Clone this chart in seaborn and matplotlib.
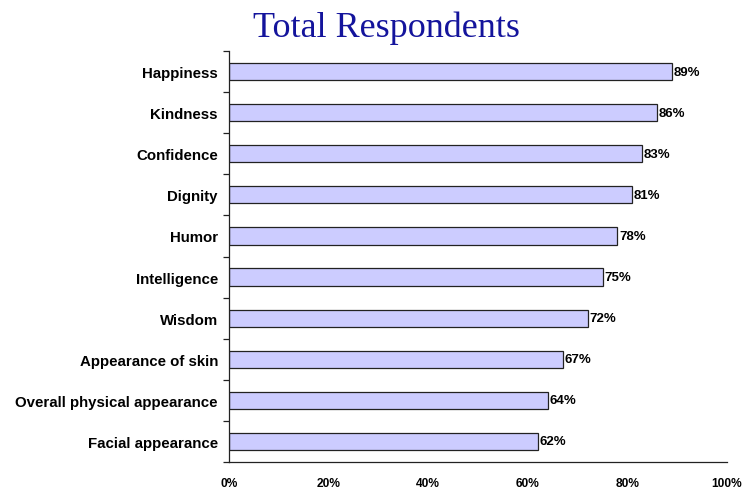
import matplotlib
matplotlib.use("Agg")
import matplotlib.pyplot as plt
import seaborn as sns
import numpy as np
import pandas as pd
from matplotlib.ticker import FixedLocator, PercentFormatter

categories = ["Happiness", "Kindness", "Confidence", "Dignity", "Humor",
              "Intelligence", "Wisdom", "Appearance of skin",
              "Overall physical appearance", "Facial appearance"]
values = [89, 86, 83, 81, 78, 75, 72, 67, 64, 62]
x_ticks = [0, 20, 40, 60, 80, 100]

df = pd.DataFrame({"attribute": categories, "pct": values})

sns.set_style("white")
plt.rcParams["font.family"] = ["Liberation Sans", "DejaVu Sans"]
plt.rcParams["text.color"] = "black"
plt.rcParams["xtick.color"] = "black"
plt.rcParams["ytick.color"] = "black"

fig = plt.figure(figsize=(7.42, 4.89), dpi=100)
ax = fig.add_axes([229 / 742, 26 / 489, 498 / 742, 411 / 489])

sns.barplot(data=df, x="pct", y="attribute", orient="h", ax=ax,
            color="#ccccff", edgecolor="#222222", linewidth=0.9,
            width=0.42, saturation=1)

ax.set_xlim(0, 100)
ax.set_ylim(len(categories) - 0.5, -0.5)
ax.set_xlabel("")
ax.set_ylabel("")

for spine in ["top", "right"]:
    ax.spines[spine].set_visible(False)
for spine in ["left", "bottom"]:
    ax.spines[spine].set_color("#222222")
    ax.spines[spine].set_linewidth(0.9)

ax.set_xticks(x_ticks)
ax.xaxis.set_major_formatter(PercentFormatter(decimals=0))
ax.tick_params(axis="x", direction="out", length=3, width=0.9,
               color="#222222", pad=8, labelsize=8.6, labelcolor="black")
for lbl in ax.get_xticklabels():
    lbl.set_fontweight("bold")

ax.tick_params(axis="y", which="major", length=0, pad=8, labelsize=10.8,
               labelcolor="black")
for lbl in ax.get_yticklabels():
    lbl.set_fontweight("bold")
ax.yaxis.set_minor_locator(FixedLocator(np.arange(-0.5, len(categories), 1.0)))
ax.tick_params(axis="y", which="minor", direction="out", length=4,
               width=0.9, color="#222222", left=True)

for i, v in enumerate(values):
    ax.text(v + 0.3, i, f"{v}%", va="center", ha="left",
            fontsize=9.5, fontweight="bold", color="black")

fig.text(386 / 742, 1 - 28 / 489, "Total Respondents", ha="center",
         va="center", fontsize=26, color="#14149c",
         family=["Liberation Serif", "DejaVu Serif"])

fig.savefig("out.png", dpi=100)
